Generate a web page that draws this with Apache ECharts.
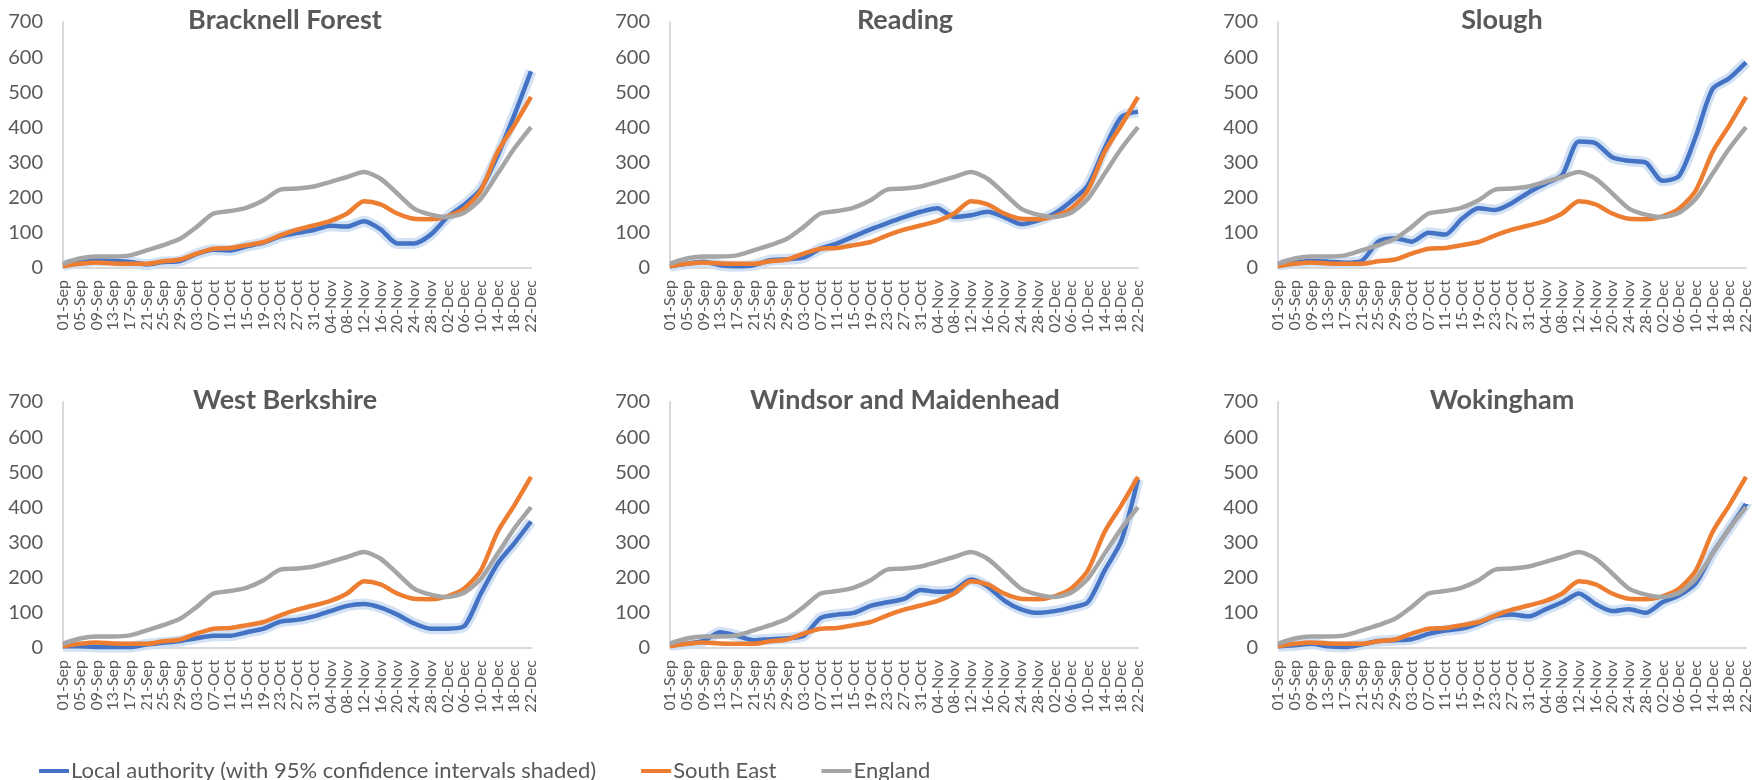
<!DOCTYPE html>
<html>
<head>
<meta charset="utf-8">
<script src="https://cdn.jsdelivr.net/npm/echarts@6/dist/echarts.min.js"></script>
<style>
html,body{margin:0;padding:0;background:#fff;}
#chart{width:1763px;height:780px;}
</style>
</head>
<body>
<div id="chart"></div>
<script>
// Tick labels (every 4 days) – data sampled on these dates
const dates = ['01-Sep','05-Sep','09-Sep','13-Sep','17-Sep','21-Sep','25-Sep','29-Sep',
  '03-Oct','07-Oct','11-Oct','15-Oct','19-Oct','23-Oct','27-Oct','31-Oct',
  '04-Nov','08-Nov','12-Nov','16-Nov','20-Nov','24-Nov','28-Nov',
  '02-Dec','06-Dec','10-Dec','14-Dec','18-Dec','22-Dec'];

const yTicks = [0,100,200,300,400,500,600,700];

// Comparators (same in every panel)
const england   = [12,27,33,33,36,50,65,83,117,155,162,172,193,223,226,232,245,259,273,254,212,169,152,145,157,197,268,340,401];
const southEast = [5,12,16,13,12,12,19,24,41,55,57,65,74,93,109,121,134,155,190,181,155,140,139,147,169,221,330,406,487];

// Local authorities
const panelNames = ['Bracknell Forest','Reading','Slough','West Berkshire','Windsor and Maidenhead','Wokingham'];
const bracknell = [8,15,22,20,17,10,17,20,40,52,50,62,72,90,100,108,120,118,133,110,70,70,95,145,180,225,320,435,560];
const reading   = [5,12,18,8,5,8,22,25,30,55,70,90,110,128,145,160,170,145,150,160,145,125,135,155,190,235,340,430,445];
const slough    = [8,15,20,18,15,20,75,85,75,100,95,140,170,165,185,215,240,265,360,355,315,305,300,248,262,375,510,540,585];
const westBerks = [5,5,3,3,3,10,15,20,28,35,35,45,55,75,80,90,105,120,125,115,95,70,55,55,62,155,240,298,360];
const windsor   = [8,12,20,45,35,22,25,28,35,85,95,100,120,130,140,165,160,165,195,175,135,110,100,105,115,130,220,305,480];
const wokingham = [5,8,12,5,3,10,20,22,25,40,50,55,70,90,95,90,110,130,155,125,105,110,100,130,150,185,270,340,410];
const localData = [bracknell, reading, slough, westBerks, windsor, wokingham];

const LA_NAME = 'Local authority (with 95% confidence intervals shaded)';
const SE_NAME = 'South East';
const ENG_NAME = 'England';

const FONT = 'Lato, "Open Sans", sans-serif';
const TXT = '#595959';
const colLeft = [63, 670, 1278];
const titleCenter = [280, 900, 1497];
const rowTop = [22, 402];
const W = 468, H = 246;

const grids = [], xAxes = [], yAxes = [], titles = [], series = [];
for (let i = 0; i < 6; i++) {
  const c = i % 3, r = Math.floor(i / 3);
  grids.push({left: colLeft[c], top: rowTop[r], width: W, height: H, containLabel: false});
  titles.push({
    text: panelNames[i], left: titleCenter[c], top: rowTop[r] - 20, textAlign: 'center',
    textStyle: {fontFamily: FONT, fontSize: 27, fontWeight: 'bold', color: TXT}
  });
  xAxes.push({
    type: 'category', gridIndex: i, data: dates, boundaryGap: false,
    axisLine: {show: true, lineStyle: {color: '#d9d9d9', width: 2}},
    axisTick: {show: false},
    axisLabel: {interval: 0, rotate: 90, fontFamily: FONT, fontSize: 16, color: TXT, margin: 12},
    splitLine: {show: false}
  });
  yAxes.push({
    type: 'value', gridIndex: i, min: yTicks[0], max: yTicks[yTicks.length - 1], interval: 100,
    axisLine: {show: true, lineStyle: {color: '#d9d9d9', width: 2}},
    axisTick: {show: false},
    axisLabel: {fontFamily: FONT, fontSize: 20, color: TXT, margin: 20},
    splitLine: {show: false}
  });
  // confidence-interval shading (halo behind the local authority line)
  series.push({
    name: 'ci' + i, type: 'line', xAxisIndex: i, yAxisIndex: i, data: localData[i],
    showSymbol: false, silent: true, smooth: 0.25, z: 1,
    lineStyle: {color: '#cddff3', width: 11, opacity: 0.9}
  });
  series.push({
    name: LA_NAME, type: 'line', xAxisIndex: i, yAxisIndex: i, data: localData[i],
    showSymbol: false, smooth: 0.25, z: 2,
    itemStyle: {color: '#4472C4'}, lineStyle: {color: '#4472C4', width: 4.5}
  });
  series.push({
    name: SE_NAME, type: 'line', xAxisIndex: i, yAxisIndex: i, data: southEast,
    showSymbol: false, smooth: 0.25, z: 3,
    itemStyle: {color: '#ED7D31'}, lineStyle: {color: '#ED7D31', width: 4.5}
  });
  series.push({
    name: ENG_NAME, type: 'line', xAxisIndex: i, yAxisIndex: i, data: england,
    showSymbol: false, smooth: 0.25, z: 4,
    itemStyle: {color: '#A5A5A5'}, lineStyle: {color: '#A5A5A5', width: 4.5}
  });
}

const chart = echarts.init(document.getElementById('chart'), null, {renderer: 'canvas'});
chart.setOption({
  animation: false,
  backgroundColor: '#ffffff',
  title: titles,
  grid: grids,
  xAxis: xAxes,
  yAxis: yAxes,
  legend: {
    data: [LA_NAME, SE_NAME, ENG_NAME],
    left: 34, top: 755, icon: 'rect', itemWidth: 30, itemHeight: 4, itemGap: 45,
    textStyle: {fontFamily: FONT, fontSize: 22, color: TXT, padding: [0, 0, 0, -3]}
  },
  series: series
});
</script>
</body>
</html>
